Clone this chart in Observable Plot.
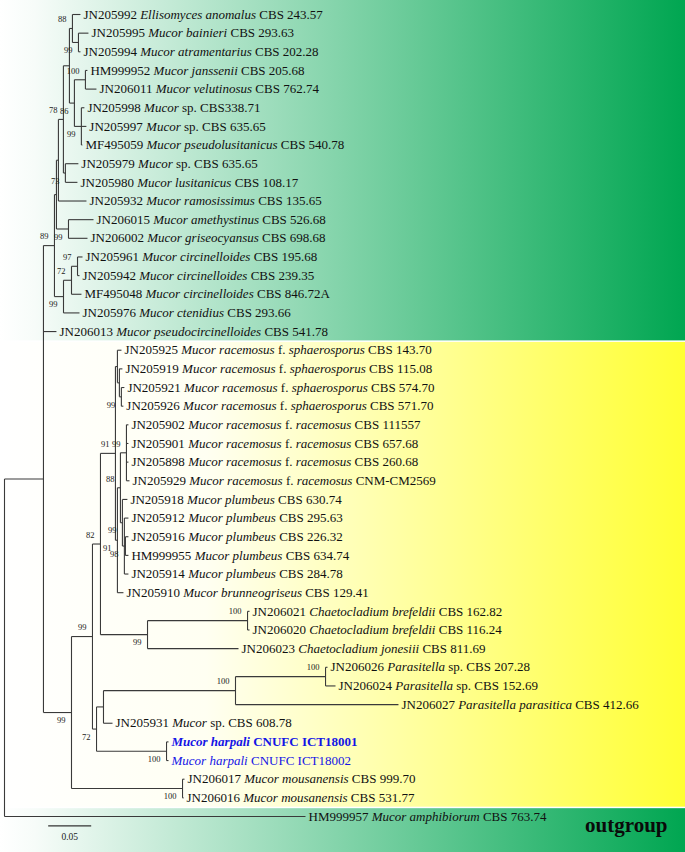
<!DOCTYPE html>
<html><head><meta charset="utf-8">
<script src="https://cdn.jsdelivr.net/npm/d3@7"></script>
<script src="https://cdn.jsdelivr.net/npm/@observablehq/plot@0.6"></script>
<style>
html,body{margin:0;padding:0;background:#fff;}
#chart{width:685px;height:852px;overflow:hidden;}
</style></head><body><div id="chart"></div>
<script>
// ---- DATA ----
// Tree topology with branch lengths (substitutions/site) and bootstrap values as internal labels.
const treeNewick = `(
 (
  (
   (
    (
     (
      (
       (L0:0.0093,(L1:0.0116,L2:0.0023)99:0.0070)88:0.0035,
       ((L3:0.0023,L4:0.0128)100:0.0128,(L5:0.0035,L6:0.0058,L7:0.0012)99:0.0081)86:0.0058
      ):0.0070,
      (L8:0.0151,L9:0.0140)73:0.0023
     )78:0.0058,
     L10:0.0326
    ):0.0023,
    (L11:0.0291,L12:0.0221)99:0.0140
   ):0.0023,
   (((L13:0.0058,L14:0.0023)97:0.0070,L15:0.0116)72:0.0093,L16:0.0186)99:0.0105
  )89:0.0128,
  L17:0.0151,
  (
   (
    (
     (
      (L18:0.0047,(L19:0.0035,(L20:0.0035,L21:0.0023)99:0.0023):0.0023):0.0023,
      (
       (
        (L22:0.0023,L23:0.0023,L24:0.0023,L25:0.0035)99:0.0070,
        (L26:0.0058,(L27:0.0047,(L28:0.0035,L29:0.0035):0.0012,L30:0.0047)98:0.0023)99:0.0023
       )88:0.0035,
       L31:0.0070
      )91:0.0023
     )91:0.0174,
     ((L32:0.0023,L33:0.0023)100:0.1163,L34:0.1058)99:0.0547
    )82:0.0093,
    (
     (
      ((L35:0.0023,L36:0.0116)100:0.1047,L37:0.1895)100:0.1535,
      L38:0.0105
     ):0.0081,
     (L39:0.0023,L40:0.0023)100:0.0814
    )72:0.0047
   )99:0.0244,
   (L41:0.0023,L42:0.0012)100:0.1291
  )99:0.0326
 ):0.0453,
 L43:0.3500
);`;

// Leaf labels (italic parts between *...*)
const leafLabels = [
  "JN205992 *Ellisomyces anomalus* CBS 243.57",
  "JN205995 *Mucor bainieri* CBS 293.63",
  "JN205994 *Mucor atramentarius* CBS 202.28",
  "HM999952 *Mucor janssenii* CBS 205.68",
  "JN206011 *Mucor velutinosus* CBS 762.74",
  "JN205998 *Mucor* sp. CBS338.71",
  "JN205997 *Mucor* sp. CBS 635.65",
  "MF495059 *Mucor pseudolusitanicus* CBS 540.78",
  "JN205979 *Mucor* sp. CBS 635.65",
  "JN205980 *Mucor lusitanicus* CBS 108.17",
  "JN205932 *Mucor ramosissimus* CBS 135.65",
  "JN206015 *Mucor amethystinus* CBS 526.68",
  "JN206002 *Mucor griseocyansus* CBS 698.68",
  "JN205961 *Mucor circinelloides* CBS 195.68",
  "JN205942 *Mucor circinelloides* CBS 239.35",
  "MF495048 *Mucor circinelloides* CBS 846.72A",
  "JN205976 *Mucor ctenidius* CBS 293.66",
  "JN206013 *Mucor pseudocircinelloides* CBS 541.78",
  "JN205925 *Mucor racemosus* f. *sphaerosporus* CBS 143.70",
  "JN205919 *Mucor racemosus* f. *sphaerosporus* CBS 115.08",
  "JN205921 *Mucor racemosus* f. *sphaerosporus* CBS 574.70",
  "JN205926 *Mucor racemosus* f. *sphaerosporus* CBS 571.70",
  "JN205902 *Mucor racemosus* f. *racemosus* CBS 111557",
  "JN205901 *Mucor racemosus* f. *racemosus* CBS 657.68",
  "JN205898 *Mucor racemosus* f. *racemosus* CBS 260.68",
  "JN205929 *Mucor racemosus* f. *racemosus* CNM-CM2569",
  "JN205918 *Mucor plumbeus* CBS 630.74",
  "JN205912 *Mucor plumbeus* CBS 295.63",
  "JN205916 *Mucor plumbeus* CBS 226.32",
  "HM999955 *Mucor plumbeus* CBS 634.74",
  "JN205914 *Mucor plumbeus* CBS 284.78",
  "JN205910 *Mucor brunneogriseus* CBS 129.41",
  "JN206021 *Chaetocladium brefeldii* CBS 162.82",
  "JN206020 *Chaetocladium brefeldii* CBS 116.24",
  "JN206023 *Chaetocladium jonesiii* CBS 811.69",
  "JN206026 *Parasitella* sp. CBS 207.28",
  "JN206024 *Parasitella* sp. CBS 152.69",
  "JN206027 *Parasitella parasitica* CBS 412.66",
  "JN205931 *Mucor* sp. CBS 608.78",
  "*Mucor harpali* CNUFC ICT18001",
  "*Mucor harpali* CNUFC ICT18002",
  "JN206017 *Mucor mousanensis* CBS 999.70",
  "JN206016 *Mucor mousanensis* CBS 531.77",
  "HM999957 *Mucor amphibiorum* CBS 763.74"
];
const newIsolates = [39, 40];     // highlighted (blue)
const boldIsolates = [39];        // bold
const scaleBarLength = 0.05;
const scaleBarLabel = "0.05";
const groupBandNames = ["ingroup-upper", "ingroup-lower", "outgroup"];
const groupBandStartRows = [-1.5, 17.5, 42.5];
const groupBandEndRows = [17.5, 42.5, 46];
const outgroupLabel = "outgroup";

// ---- PARSE & LAYOUT ----
function parseNewick(src) {
  const s = src.replace(/\s+/g, "");
  let i = 0;
  function node() {
    const n = {children: []};
    if (s[i] === "(") {
      i++;
      n.children.push(node());
      while (s[i] === ",") { i++; n.children.push(node()); }
      i++;
    }
    let name = "";
    while (i < s.length && !",():;".includes(s[i])) name += s[i++];
    n.name = name;
    if (s[i] === ":") {
      i++;
      let num = "";
      while (i < s.length && !",();".includes(s[i])) num += s[i++];
      n.length = +num;
    } else n.length = 0;
    return n;
  }
  return node();
}
const root = parseNewick(treeNewick);
const allNodes = [];
function layout(n, depth, parent, pos) {
  n.x = depth + n.length;
  n.parent = parent;
  n.pos = pos;
  if (n.children.length) {
    const k = n.children.length;
    n.children.forEach((c, j) => layout(c, n.x, n, j === 0 ? "first" : j === k - 1 ? "last" : "mid"));
    n.y = (n.children[0].y + n.children[k - 1].y) / 2;
  } else {
    n.leaf = +n.name.slice(1);
    n.y = n.leaf;
  }
  allNodes.push(n);
}
layout(root, 0, null, "root");
root.x = 0;

const hSegs = allNodes.filter(n => n.parent).map(n => ({x1: n.parent.x, x2: n.x, y: n.y}));
const vSegs = allNodes.filter(n => n.children.length).map(n => ({x: n.x, y1: n.children[0].y, y2: n.children[n.children.length - 1].y}));
const leaves = allNodes.filter(n => !n.children.length);
const supports = allNodes.filter(n => n.children.length && n.name !== "");
const supAbove = supports.filter(n => n.pos !== "last");
const supBelow = supports.filter(n => n.pos === "last");

const W = 685, H = 852;
const pxPerUnit = 860;
const xMax = (W - 4) / pxPerUnit;
const bands = groupBandNames.map((name, i) => ({name, y1: groupBandStartRows[i], y2: groupBandEndRows[i]}));
const xMinBand = -4 / pxPerUnit;

const svg = Plot.plot({
  width: W,
  height: H,
  marginLeft: 4,
  marginRight: 0,
  marginTop: 14,
  marginBottom: 36,
  x: {domain: [0, xMax], range: [4, W], axis: null},
  y: {domain: [0, 43], range: [14, 816], axis: null},
  style: {fontFamily: "'Liberation Serif','Times New Roman',serif", background: "#ffffff", overflow: "hidden"},
  marks: [
    Plot.rect([bands[0]], {x1: xMinBand, x2: xMax, y1: "y1", y2: "y2", fill: "url(#gradGreen)"}),
    Plot.rect([bands[1]], {x1: xMinBand, x2: xMax, y1: "y1", y2: "y2", fill: "url(#gradYellow)", insetTop: 1.5}),
    Plot.rect([bands[2]], {x1: xMinBand, x2: xMax, y1: "y1", y2: "y2", fill: "url(#gradGreen)", insetTop: 1.5}),
    Plot.link(hSegs, {x1: "x1", x2: "x2", y1: "y", y2: "y", stroke: "#3a3a3a", strokeWidth: 1.1}),
    Plot.link(vSegs, {x1: "x", x2: "x", y1: "y1", y2: "y2", stroke: "#3a3a3a", strokeWidth: 1.1}),
    Plot.text(leaves, {x: "x", y: "y", text: d => leafLabels[d.leaf], dx: 3, textAnchor: "start", fontSize: 13, fill: "#111"}),
    Plot.text(supAbove, {x: "x", y: "y", text: "name", dx: -6, dy: -9, textAnchor: "end", fontSize: 8.5, fill: "#222"}),
    Plot.text(supBelow, {x: "x", y: "y", text: "name", dx: -6, dy: 8, textAnchor: "end", fontSize: 8.5, fill: "#222"}),
    Plot.link([scaleBarLength], {x1: 0.0508, x2: d => 0.0508 + d, y1: 43.5, y2: 43.5, stroke: "#333", strokeWidth: 1.3}),
    Plot.text([scaleBarLabel], {x: 0.0508 + scaleBarLength / 2, y: 43.5, text: d => d, dy: 11, fontSize: 9.5, fill: "#222"}),
    Plot.text([outgroupLabel], {frameAnchor: "bottom-right", text: d => d, dx: -18, dy: 9, textAnchor: "end", lineAnchor: "middle", fontSize: 21, fontWeight: "bold", fill: "#0a0a0a"})
  ]
});

// gradients
const ns = "http://www.w3.org/2000/svg";
const defs = document.createElementNS(ns, "defs");
function grad(id, stops) {
  const g = document.createElementNS(ns, "linearGradient");
  g.setAttribute("id", id);
  g.setAttribute("x1", "0"); g.setAttribute("x2", "1"); g.setAttribute("y1", "0"); g.setAttribute("y2", "0");
  for (const [o, c] of stops) {
    const st = document.createElementNS(ns, "stop");
    st.setAttribute("offset", o); st.setAttribute("stop-color", c);
    g.appendChild(st);
  }
  defs.appendChild(g);
}
grad("gradGreen", [["0", "#ffffff"], ["0.05", "#f7fcf9"], ["1", "#00a651"]]);
grad("gradYellow", [["0", "#ffffff"], ["0.3", "#fffff2"], ["1", "#ffff33"]]);
svg.insertBefore(defs, svg.firstChild);

// Rich text for leaf labels
const textGroups = svg.querySelectorAll('g[aria-label="text"]');
const leafTexts = textGroups[0].querySelectorAll("text");
leaves.forEach((d, i) => {
  const el = leafTexts[i];
  if (!el) return;
  const label = leafLabels[d.leaf];
  el.textContent = "";
  label.split("*").forEach((part, j) => {
    if (!part) return;
    const t = document.createElementNS(ns, "tspan");
    t.textContent = part;
    if (j % 2 === 1) t.setAttribute("font-style", "italic");
    el.appendChild(t);
  });
  if (newIsolates.includes(d.leaf)) el.setAttribute("fill", "#1414e6");
  if (boldIsolates.includes(d.leaf)) el.setAttribute("font-weight", "bold");
});

document.getElementById("chart").appendChild(svg);
</script>
</body></html>
